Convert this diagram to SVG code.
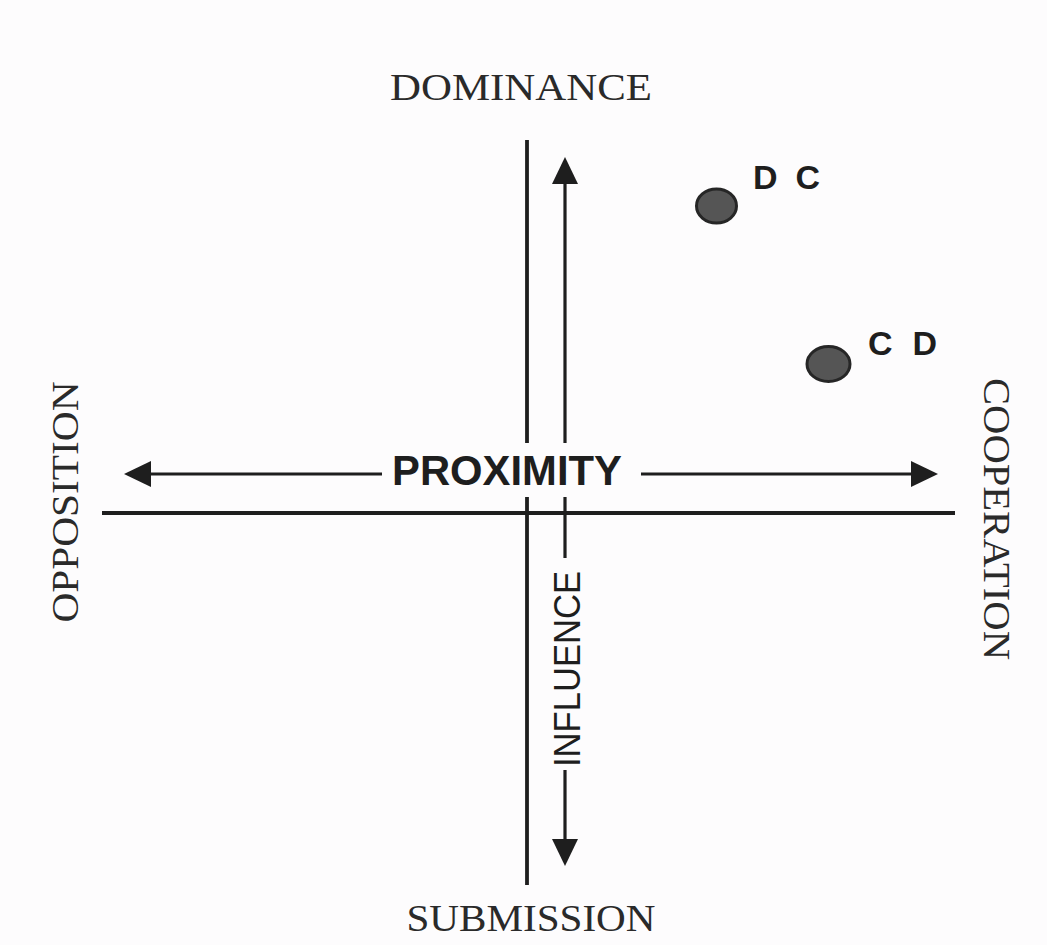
<svg xmlns="http://www.w3.org/2000/svg" width="1047" height="945" viewBox="0 0 1047 945">
<style>
.ax{stroke:#1e1e1e;stroke-width:3.8;fill:none}
.ln{stroke:#1e1e1e;stroke-width:3.2;fill:none}
.ar{stroke:#1e1e1e;stroke-width:3.2;fill:none;marker-end:url(#ah)}
.serif{font-family:"Liberation Serif","Times New Roman",serif;fill:#2a2a2a;font-size:38px}
.sans{font-family:"Liberation Sans",Arial,sans-serif;fill:#1e1e1e}
.dot{fill:#555;stroke:#262626;stroke-width:3}
</style>
<defs>
<marker id="ah" viewBox="0 0 27 26" refX="0" refY="13" markerWidth="27" markerHeight="26" markerUnits="userSpaceOnUse" orient="auto">
<path d="M0,0 L27,13 L0,26 z" fill="#1e1e1e"/>
</marker>
</defs>
<rect width="1047" height="945" fill="#fdfcfd"/>
<g id="connectors">
<line class="ax" x1="102" y1="513" x2="955" y2="513"/>
<line class="ax" x1="527" y1="140" x2="527" y2="443"/>
<line class="ax" x1="527" y1="497" x2="527" y2="885"/>
<line class="ar" x1="565" y1="443" x2="565" y2="184"/>
<line class="ln" x1="565" y1="497" x2="565" y2="558"/>
<line class="ar" x1="565" y1="770" x2="565" y2="839"/>
<line class="ar" x1="382" y1="474" x2="151" y2="474"/>
<line class="ar" x1="641" y1="474" x2="911" y2="474"/>
</g>
<g id="dominance"><text class="serif" x="521" y="100" text-anchor="middle" textLength="262" lengthAdjust="spacingAndGlyphs">DOMINANCE</text></g>
<g id="submission"><text class="serif" x="531" y="931" text-anchor="middle" textLength="249" lengthAdjust="spacingAndGlyphs">SUBMISSION</text></g>
<g id="opposition"><text class="serif" transform="translate(78,502) rotate(-90)" x="0" y="0" text-anchor="middle" textLength="241" lengthAdjust="spacingAndGlyphs">OPPOSITION</text></g>
<g id="cooperation"><text class="serif" transform="translate(984,519) rotate(90)" x="0" y="0" text-anchor="middle" textLength="282" lengthAdjust="spacingAndGlyphs">COOPERATION</text></g>
<g id="proximity"><text class="sans" x="507" y="485" text-anchor="middle" font-size="42" font-weight="bold" textLength="230" lengthAdjust="spacingAndGlyphs">PROXIMITY</text></g>
<g id="influence"><text class="sans" transform="translate(580,669) rotate(-90)" x="0" y="0" text-anchor="middle" font-size="37" textLength="196" lengthAdjust="spacingAndGlyphs">INFLUENCE</text></g>
<g id="dc"><ellipse class="dot" cx="716.5" cy="206" rx="20" ry="17"/><text class="sans" x="753" y="189" font-size="34" font-weight="bold" textLength="67" lengthAdjust="spacing">D C</text></g>
<g id="cd"><ellipse class="dot" cx="828.5" cy="364" rx="21.5" ry="17.5"/><text class="sans" x="868" y="355" font-size="34" font-weight="bold" textLength="69" lengthAdjust="spacing">C D</text></g>
</svg>
